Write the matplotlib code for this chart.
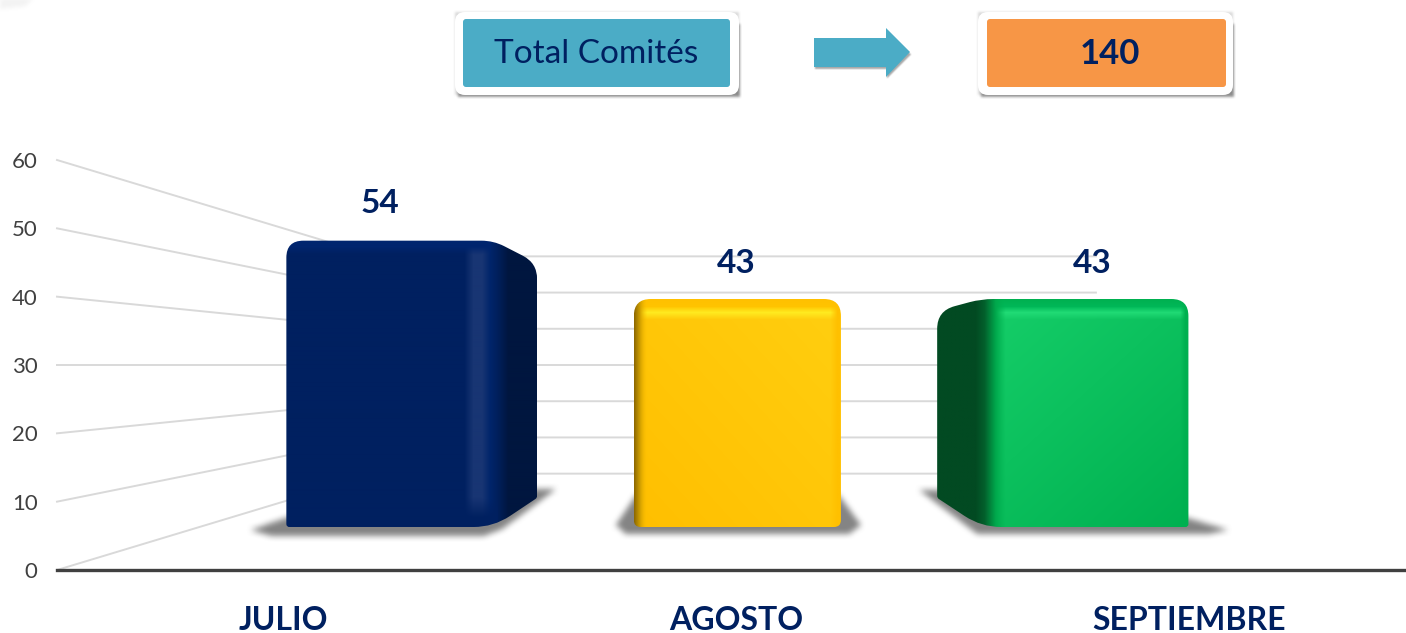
import numpy as np
import matplotlib
matplotlib.use("Agg")
import matplotlib.pyplot as plt
from matplotlib.colors import to_rgb
from matplotlib.patches import FancyBboxPatch, Polygon
from matplotlib.path import Path
from matplotlib.transforms import IdentityTransform

# Data
months = ["JULIO", "AGOSTO", "SEPTIEMBRE"]
comites = [54, 43, 43]
total_label = "Total Comités"
total_value = 140
y_ticks = [0, 10, 20, 30, 40, 50, 60]

NAVY = "#002060"
W, H = 1406, 633
plt.rcParams["font.family"] = ["Lato", "DejaVu Sans"]

fig = plt.figure(figsize=(W / 100, H / 100), dpi=100, facecolor="white")
ax = fig.add_axes([57 / W, 1 - 570 / H, (W - 57) / W, 410 / H])
xlim = (-0.5, 2.48)
ylim = (0, 60)
ax.set_xlim(xlim)
ax.set_ylim(ylim)
ax.patch.set_alpha(0)

# Perspective of the 3D chart (scales)
BACK = 0.53      # back wall
FRONT_X = 0.7676 # front face of bars
FRONT_H = 0.776
FLOOR = 6.29     # bar foot on the front axis scale
SIDE = 0.82      # rear edge of bar, relative to front face
HALF = 0.298
NUDGE = 0.003
CX, CY = 1, 30   # vanishing point


def recede(x, y, s):
    return CX + (x - CX) * s, CY + (y - CY) * s


# Axis, ticks
for name in ["top", "left", "right"]:
    ax.spines[name].set_visible(False)
ax.spines["bottom"].set_color("#404040")
ax.spines["bottom"].set_linewidth(2.4)
ax.set_yticks(y_ticks)
ax.set_xticks(range(len(months)))
ax.set_xticklabels(months, fontsize=23, fontweight="bold", color=NAVY)
ax.tick_params(axis="x", length=0, pad=26)
ax.tick_params(axis="y", length=0, pad=14, labelsize=16, labelcolor="#404040")

# Grid: side wall + back wall
for v in y_ticks:
    bx0, by = recede(xlim[0], v, BACK)
    bx1, _ = recede(2.5, v, BACK)
    ax.plot([xlim[0], bx0, bx1], [v, by, by], color="#d9d9d9", lw=1.4,
            zorder=1, clip_on=False)


def overlay(img, axis, pos, colors, alphas, limit=None):
    n = img.shape[axis]
    t = np.arange(n)
    a = np.interp(t, pos, alphas)
    cols = np.array([to_rgb(c) for c in colors])
    c = np.stack([np.interp(t, pos, cols[:, i]) for i in range(3)], axis=1)
    if axis == 0:
        a = np.repeat(a[:, None], img.shape[1], axis=1)
        c = np.repeat(c[:, None, :], img.shape[1], axis=1)
    else:
        a = np.repeat(a[None, :], img.shape[0], axis=0)
        c = np.repeat(c[None, :, :], img.shape[0], axis=0)
    if limit is not None:
        mask = np.zeros(img.shape[:2])
        mask[:, limit[0]:limit[1]] = 1
        a = a * mask
    return img * (1 - a[..., None]) + c * a[..., None]


def diagonal(h, w, c_a, c_b, flip=False):
    yy, xx = np.mgrid[0:h, 0:w]
    u = xx / max(w - 1, 1)
    if flip:
        u = 1 - u
    t = (u + yy / max(h - 1, 1)) / 2
    a, b = np.array(to_rgb(c_a)), np.array(to_rgb(c_b))
    return a + (b - a) * t[..., None]


def rounded(pts, radii):
    verts, codes = [], []
    n = len(pts)
    for i in range(n):
        p = np.array(pts[i], float)
        a = np.array(pts[i - 1], float)
        b = np.array(pts[(i + 1) % n], float)
        p0 = p + (a - p) / np.linalg.norm(a - p) * radii[i]
        p1 = p + (b - p) / np.linalg.norm(b - p) * radii[i]
        verts += [p0, p, p1]
        codes += [Path.LINETO if i else Path.MOVETO, Path.CURVE3, Path.CURVE3]
    verts.append(verts[0])
    codes.append(Path.CLOSEPOLY)
    return Path(np.array(verts), codes)


def blur(a, passes, size):
    kernel = np.ones(size) / size
    for _ in range(passes):
        a = np.apply_along_axis(np.convolve, 0, a, kernel, mode="same")
        a = np.apply_along_axis(np.convolve, 1, a, kernel, mode="same")
    return a


def soft_shadow(pts, size=3, alpha=0.8, color="#6e6e6e"):
    # blurred polygon, placed on the figure in pixels
    pts = np.array(pts, float)
    pad = 14
    x0, y0 = np.floor(pts.min(axis=0)).astype(int) - pad
    x1, y1 = np.ceil(pts.max(axis=0)).astype(int) + pad
    xx, yy = np.meshgrid(np.arange(x0, x1) + 0.5, np.arange(y0, y1) + 0.5)
    inside = Path(pts).contains_points(np.c_[xx.ravel(), yy.ravel()]).reshape(xx.shape)
    a = blur(inside.astype(float), 2, size) * alpha
    rgba = np.zeros(a.shape + (4,))
    rgba[..., :3] = to_rgb(color)
    rgba[..., 3] = a
    fig.figimage(rgba, xo=int(x0), yo=int(y0), origin="lower", zorder=-1)


def shade_blue(h, w):
    img = diagonal(h, w, "#002060", "#002060")
    img = overlay(img, 1, [0, 178, 187, 196, 204, 212, 222, w],
                  ["#002060", "#002060", "#183573", "#183573", "#00256b",
                   "#001f5a", "#00163f", "#00163f"], [1] * 8)
    img = overlay(img, 0, [0, 6, 14], ["#00256e"] * 3, [1, 1, 0], limit=(0, 205))
    img = overlay(img, 0, [h - 30, h - 10, h], ["#002060"] * 3, [0, 1, 1], limit=(175, 212))
    return img


def shade_yellow(h, w):
    img = diagonal(h, w, "#FFC000", "#FFC000")
    img = img * 0.5 + diagonal(h, w, "#FFDE20", "#FFBE00", flip=True) * 0.5
    img = overlay(img, 0, [0, 8, 14, 21], ["#FFC000", "#FFC400", "#FFEE22", "#FFEE22"],
                  [1, 1, 0.9, 0])
    img = overlay(img, 1, [0, 5, 13], ["#8f6a00", "#c99a00", "#FFC000"], [1, 1, 0])
    img = overlay(img, 1, [w - 12, w - 5, w], ["#FFC000"] * 3, [0, 1, 1])
    return img


def shade_green(h, w):
    img = diagonal(h, w, "#18D26C", "#00B050")
    img = overlay(img, 0, [0, 8, 14, 21], ["#00B050", "#00B858", "#22DD77", "#22DD77"],
                  [1, 1, 0.9, 0])
    img = overlay(img, 1, [0, 38, 47, 58, 68], ["#024a22", "#024a22", "#03602c",
                                                "#00A84c", "#00B050"], [1, 1, 1, 1, 0])
    img = overlay(img, 1, [w - 9, w - 4, w], ["#00B050"] * 3, [0, 1, 1])
    return img


styles = [
    {"side": 1, "shade": shade_blue},
    {"side": 0, "shade": shade_yellow},
    {"side": -1, "shade": shade_green},
]

to_px = ax.transData.transform
ident = IdentityTransform()

# faint smudge in the top left corner of the slide
soft_shadow([(0, H + 2), (34, H + 2), (26, H - 6), (0, H - 9)], size=5, alpha=0.1, color="#888888")

# Bars
for i, (value, st) in enumerate(zip(comites, styles)):
    xl = 1 + (i - 1) * FRONT_X - HALF * FRONT_X + NUDGE
    xr = 1 + (i - 1) * FRONT_X + HALF * FRONT_X + NUDGE
    y0, y1 = FLOOR, FLOOR + value * FRONT_H
    p_bl, p_tl = to_px((xl, y0)), to_px((xl, y1))
    p_tr, p_br = to_px((xr, y1)), to_px((xr, y0))

    if st["side"] == 1:
        b_t, b_b = to_px(recede(xr, y1, SIDE)), to_px(recede(xr, y0, SIDE))
        pts = [p_bl, p_tl, p_tr, b_t, b_b, p_br]
        rad = [3, 17, 12, 16, 2, 20]
        sh = [p_bl + (-36, -3), p_bl + (2, 10), b_b + (-4, 9), b_b + (19, 9),
              p_br + (9, -2), p_br + (-10, -9), p_bl + (-15, -9)]
    elif st["side"] == -1:
        b_t, b_b = to_px(recede(xl, y1, SIDE)), to_px(recede(xl, y0, SIDE))
        pts = [b_b, b_t, p_tl, p_tr, p_br, p_bl]
        rad = [2, 18, 12, 17, 3, 20]
        sh = [b_b + (-18, 8), b_b + (4, 8), p_br + (-4, 10), p_br + (40, -3),
              p_br + (20, -7), p_bl + (-4, -7)]
    else:
        pts = [p_bl, p_tl, p_tr, p_br]
        rad = [7, 17, 17, 7]
        sh = [p_bl + (-18, 2), p_bl + (2, 32), p_br + (-2, 32), p_br + (20, 2),
              p_br + (8, -7), p_bl + (-8, -7)]
    soft_shadow(sh, size=7, alpha=0.85)

    box = np.array(pts)
    x_min, y_min = box.min(axis=0)
    x_max, y_max = box.max(axis=0)
    w, h = int(round(x_max - x_min)), int(round(y_max - y_min))
    (ex0, ey0), (ex1, ey1) = ax.transData.inverted().transform([(x_min, y_min), (x_max, y_max)])
    im = ax.imshow(st["shade"](h, w), extent=(ex0, ex1, ey0, ey1), aspect="auto",
                   origin="upper", zorder=3, interpolation="bilinear")
    im.set_clip_path(rounded(pts, rad), ident)
    ax.set_xlim(xlim)
    ax.set_ylim(ylim)

    # value label
    lx = 1 + (i - 1) * 0.786
    off = 37 if value == max(comites) else 35.5
    ax.annotate(str(value), xy=(lx, y1), xytext=(0, off * 0.72), textcoords="offset points",
                ha="center", va="center", fontsize=24, fontweight="bold", color=NAVY,
                zorder=5, annotation_clip=False)


# Top boxes
def top_box(x0, x1, ix0, ix1, color, text, weight, size, text_dx=0):
    y0, y1 = H - 95, H - 12
    soft_shadow([(x0, y0), (x1, y0), (x1, y1), (x0, y1)], size=3, alpha=0.22, color="#555555")
    soft_shadow([(x0 + 3, y0 - 2), (x1 + 1, y0 - 2), (x1 + 1, y1 - 12), (x0 + 3, y1 - 12)],
                size=3, alpha=0.6, color="#555555")
    fig.add_artist(FancyBboxPatch((x0 + 10, y0 + 10), x1 - x0 - 20, y1 - y0 - 20,
                                  boxstyle="round,pad=10,rounding_size=10",
                                  fc="white", ec="none", transform=ident))
    fig.add_artist(FancyBboxPatch((ix0 + 3, H - 87 + 3), ix1 - ix0 - 6, 68 - 6,
                                  boxstyle="round,pad=3,rounding_size=3",
                                  fc=color, ec="none", transform=ident))
    fig.text(((ix0 + ix1) / 2 + text_dx) / W, 1 - 54 / H, text, ha="center", va="center",
             fontsize=size, fontweight=weight, color=NAVY)


top_box(455, 739, 463, 730, "#4BACC6", total_label, "normal", 24)
top_box(978, 1233, 987, 1226, "#F79646", str(total_value), "bold", 25, text_dx=3)

arrow = np.array([(814, 38), (886, 38), (886, 28), (910, 52), (886, 77), (886, 67), (814, 67)], float)
arrow[:, 1] = H - arrow[:, 1]
soft_shadow(arrow + (0, -3), size=2, alpha=0.5, color="#555555")
fig.add_artist(Polygon(arrow, closed=True, fc="#4BACC6", ec="none", transform=ident))

fig.savefig("out.png", dpi=100)
